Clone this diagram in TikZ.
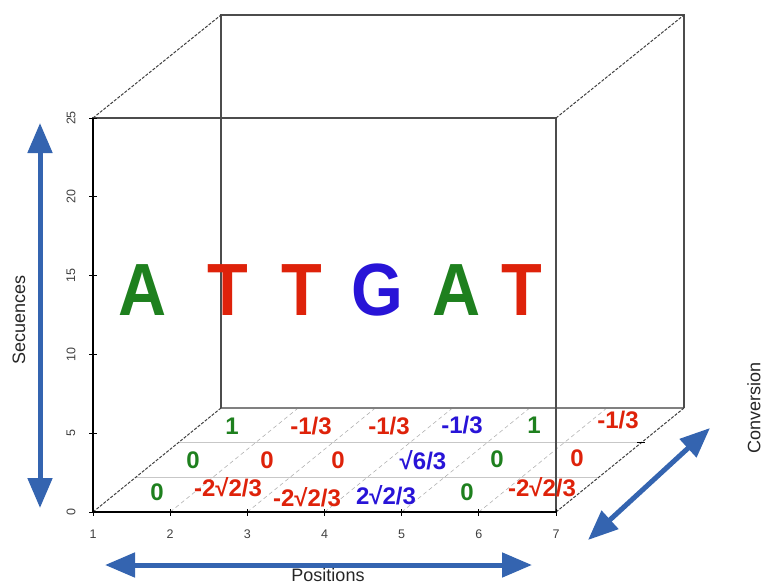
\documentclass[tikz,border=0pt]{standalone}
\usepackage{fontspec}
\setmainfont{Liberation Sans}
\usetikzlibrary{arrows.meta,calc}
\definecolor{seqG}{RGB}{30,128,30}
\definecolor{seqR}{RGB}{222,34,10}
\definecolor{seqB}{RGB}{40,20,215}
\definecolor{axB}{RGB}{52,100,176}
\begin{document}
\begin{tikzpicture}[x=1pt,y=-1pt,>={Triangle[length=30pt,width=24pt]},
  box/.style={black!70,line width=1.2pt},
  hid/.style={black!75,line width=1pt,dash pattern=on 3pt off 1.5pt},
  floor/.style={black!22,line width=0.8pt},
  floord/.style={black!30,line width=0.6pt,dash pattern=on 4pt off 3pt},
  tick/.style={font=\fontsize{12.5}{12.5}\selectfont,text=black!75},
  lab/.style={font=\fontsize{18}{18}\selectfont,text=black!85},
  base/.style={font=\fontsize{74}{74}\selectfont\bfseries,xscale=0.9},
  val/.style={font=\fontsize{24}{24}\selectfont\bfseries},
  dir/.style={<->,axB,line width=5pt}]
\useasboundingbox (0,0) rectangle (765,586);
% ---- box: front face, back face shifted by (128,-104)
\coordinate (f00) at (93,512); \coordinate (f10) at (556,512);
\coordinate (f01) at (93,118); \coordinate (f11) at (556,118);
\coordinate (b00) at (221,408); \coordinate (b10) at (684,408);
\coordinate (b01) at (221,15);  \coordinate (b11) at (684,15);
% ---- floor grid
\foreach \t in {1,2}
  \draw[floor] ($(f00)!\t/3!(b00)$) -- ($(f10)!\t/3!(b10)$);
\foreach \i in {2,...,6}
  \draw[floord] ({93+77.17*(\i-1)},512) -- ++(128,-104);
\draw[box,black!50] (b00) -- (b10);
\draw[box] (f00) -- (f01) -- (f11) -- (f10);
\draw[box] (b00) -- (b01) -- (b11) -- (b10);
\draw[hid] (f00) -- (b00); \draw[hid] (f01) -- (b01);
\draw[hid] (f11) -- (b11); \draw[hid] (f10) -- (b10);
\draw[black,line width=1.2pt] (f01) -- (f00) -- (f10);
% ---- ticks
\foreach \v [count=\k from 0] in {0,5,...,25} {
  \draw[black,line width=0.8pt] (89,{512-78.8*\k}) -- (97,{512-78.8*\k});
  \node[tick,rotate=90] (ty\k) at (71,{512-78.8*\k}) {\v};
}
\foreach \i in {1,...,7} {
  \draw[black,line width=0.8pt] ({93+77.17*(\i-1)},509) -- ++(0,7);
  \node[tick] (tx\i) at ({93+77.17*(\i-1)},534) {\i};
}
\draw[black,line width=0.8pt] ($(f10)!2/3!(b10)+(-4,0)$) -- ++(8,0);
% ---- sequence
\foreach \x/\c/\s [count=\n] in {143/seqG/A,228/seqR/T,302/seqR/T,377/seqB/G,457/seqG/A,522/seqR/T}
  \node[base,text=\c] (nt\n) at (\x,290) {\s};
% ---- converted values
\foreach \x/\y/\c/\t [count=\n] in {
  157/492/seqG/0, 228/487/seqR/{-2√2/3}, 307/497/seqR/{-2√2/3}, 386/495/seqB/{2√2/3}, 467/492/seqG/0, 542/487/seqR/{-2√2/3},
  193/460/seqG/0, 267/460/seqR/0, 338/460/seqR/0, 423/460/seqB/{√6/3}, 497/459/seqG/0, 577/458/seqR/0,
  232/426/seqG/1, 311/426/seqR/{-1/3}, 389/426/seqR/{-1/3}, 462/425/seqB/{-1/3}, 534/425/seqG/1, 618/420/seqR/{-1/3}}
  \node[val,text=\c] (cv\n) at (\x,\y) {\t};
% ---- directions
\coordinate (sq0) at (40,508); \coordinate (sq1) at (40,123);
\coordinate (ps0) at (105,565); \coordinate (ps1) at (532,565);
\coordinate (co0) at (588,540); \coordinate (co1) at (710,428);
\draw[dir] (sq0) -- (sq1);
\draw[dir] (ps0) -- (ps1);
\draw[dir] (co0) -- (co1);
\node[lab,rotate=90] (secu) at (19,320) {Secuences};
\node[lab] (posi) at (328,575) {Positions};
\node[lab,rotate=90] (conv) at (754,408) {Conversion};
\end{tikzpicture}
\end{document}
